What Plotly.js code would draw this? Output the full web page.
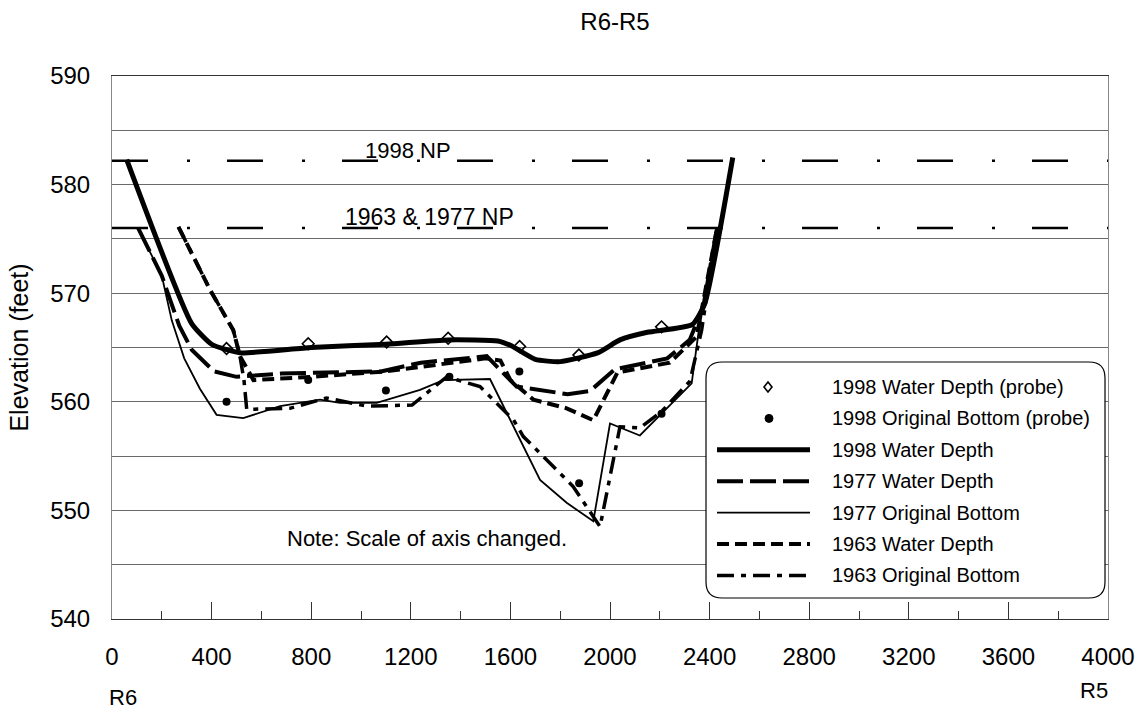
<!DOCTYPE html>
<html>
<head>
<meta charset="utf-8">
<script src="https://cdn.plot.ly/plotly-3.0.1.min.js"></script>
<style>html,body{margin:0;padding:0;background:#fff;}#chart{width:1141px;height:713px;}</style>
</head>
<body>
<div id="chart"></div>
<script>
// ---------------- DATA ----------------
const chartTitle = 'R6-R5';
const yTitle = 'Elevation (feet)';
const xTickVals = [0,400,800,1200,1600,2000,2400,2800,3200,3600,4000];
const yTickVals = [540,550,560,570,580,590];

const np1998X = [0, 4000];
const np1998Y = [582.2, 582.2];
const np6377X = [0, 4000];
const np6377Y = [576.0, 576.0];

const probeWdX = [460, 788, 1103, 1350, 1637, 1875, 2207];
const probeWdY = [564.9, 565.35, 565.5, 565.85, 565.1, 564.3, 566.9];

const probeObX = [460, 788, 1100, 1355, 1636, 1876, 2207];
const probeObY = [560.0, 562.0, 561.05, 562.3, 562.8, 552.5, 558.9];

const wd1998X = [59, 320, 400, 460, 520, 800, 1100, 1350, 1550, 1600, 1700, 1800, 1950, 2040, 2150, 2330, 2380, 2493];
const wd1998Y = [582.3, 567.2, 565.3, 564.8, 564.5, 565.0, 565.3, 565.7, 565.6, 565.2, 563.9, 563.7, 564.5, 565.7, 566.4, 567.1, 569.0, 582.5];

const wd1977X = [105, 200, 270, 320, 410, 500, 680, 1080, 1240, 1505, 1625, 1830, 1920, 2020, 2230, 2320, 2375, 2430];
const wd1977Y = [576.0, 571.6, 567.0, 564.8, 562.8, 562.3, 562.6, 562.8, 563.6, 564.2, 561.4, 560.7, 561.0, 563.0, 564.0, 565.7, 568.8, 576.0];

const ob1977X = [105, 200, 240, 290, 353, 420, 527, 675, 835, 916, 1063, 1237, 1331, 1518, 1719, 1826, 1933, 2000, 2120, 2328, 2355, 2430];
const ob1977Y = [576.0, 571.6, 567.5, 564.0, 561.2, 558.8, 558.5, 559.6, 560.2, 559.9, 559.9, 561.1, 562.0, 562.1, 552.8, 550.7, 549.0, 558.0, 556.9, 561.7, 566.3, 576.0];

const wd1963X = [267, 394, 487, 514, 568, 800, 1100, 1350, 1500, 1560, 1600, 1692, 1826, 1933, 2030, 2240, 2348, 2430];
const wd1963Y = [576.1, 570.3, 566.6, 564.2, 562.0, 562.3, 562.8, 563.5, 564.0, 563.8, 562.0, 560.2, 559.4, 558.3, 562.7, 563.6, 566.0, 576.0];

const ob1963X = [267, 394, 487, 514, 530, 541, 715, 862, 1023, 1205, 1344, 1478, 1612, 1652, 1852, 1960, 2040, 2120, 2207, 2321, 2368, 2430];
const ob1963Y = [576.1, 570.3, 566.6, 564.2, 562.0, 559.3, 559.4, 560.35, 559.6, 559.7, 562.3, 561.4, 558.35, 556.8, 552.2, 548.5, 557.7, 557.6, 559.1, 561.9, 566.6, 576.0];

const legendNames = ['1998 Water Depth (probe)', '1998 Original Bottom (probe)', '1998 Water Depth',
  '1977 Water Depth', '1977 Original Bottom', '1963 Water Depth', '1963 Original Bottom'];

const np1998Label = '1998 NP';
const np6377Label = '1963 & 1977 NP';
const noteText = 'Note: Scale of axis changed.';
const leftLabel = 'R6';
const rightLabel = 'R5';

// ---------------- STYLES ----------------
const FONT = 'Liberation Sans, Arial, sans-serif';
const npDash = '36px,39px,3px,37px';
const styles = [
  {kind:'diamond'},
  {kind:'dot'},
  {kind:'line', width:5, dash:'solid'},
  {kind:'line', width:4, dash:'26px,7px'},
  {kind:'line', width:1.8, dash:'solid'},
  {kind:'line', width:4, dash:'12px,6px'},
  {kind:'line', width:3.5, dash:'17px,7px,5px,7px'}
];

const traces = [
  {x:np1998X, y:np1998Y, mode:'lines', line:{color:'#000', width:2.6, dash:npDash}, showlegend:false, hoverinfo:'skip'},
  {x:np6377X, y:np6377Y, mode:'lines', line:{color:'#000', width:2.6, dash:npDash}, showlegend:false, hoverinfo:'skip'},
  {x:ob1977X, y:ob1977Y, mode:'lines', name:legendNames[4], line:{color:'#000', width:styles[4].width, dash:styles[4].dash}},
  {x:ob1963X, y:ob1963Y, mode:'lines', name:legendNames[6], line:{color:'#000', width:styles[6].width, dash:styles[6].dash}},
  {x:wd1963X, y:wd1963Y, mode:'lines', name:legendNames[5], line:{color:'#000', width:styles[5].width, dash:styles[5].dash}},
  {x:wd1977X, y:wd1977Y, mode:'lines', name:legendNames[3], line:{color:'#000', width:styles[3].width, dash:styles[3].dash}},
  {x:wd1998X, y:wd1998Y, mode:'lines', name:legendNames[2], line:{color:'#000', width:styles[2].width, shape:'spline', smoothing:0.5}},
  {x:probeWdX, y:probeWdY, mode:'markers', name:legendNames[0], marker:{symbol:'diamond-open', size:9, color:'#000', line:{width:1.6, color:'#000'}}},
  {x:probeObX, y:probeObY, mode:'markers', name:legendNames[1], marker:{symbol:'circle', size:8, color:'#000'}}
];

// plot-area geometry in pixels
const L = 112, R = 33, T = 76, B = 94;
const PW = 1141 - L - R, PH = 713 - T - B;
const px = v => (v - L) / PW;
const py = v => (713 - B - v) / PH;

const shapes = [];
const annotations = [];

// rounded legend box
(function(){
  const x0=706, x1=1105, y0=362, y1=598, r=16;
  const P = (a,b) => px(a).toFixed(5)+','+py(b).toFixed(5);
  const d = 'M'+P(x0+r,y0)+' L'+P(x1-r,y0)+' Q'+P(x1,y0)+' '+P(x1,y0+r)+
    ' L'+P(x1,y1-r)+' Q'+P(x1,y1)+' '+P(x1-r,y1)+' L'+P(x0+r,y1)+' Q'+P(x0,y1)+' '+P(x0,y1-r)+
    ' L'+P(x0,y0+r)+' Q'+P(x0,y0)+' '+P(x0+r,y0)+' Z';
  shapes.push({type:'path', xref:'paper', yref:'paper', path:d, fillcolor:'#fff', line:{color:'#000', width:1.2}, layer:'above'});
})();

const rowY0 = 387, rowStep = 31.4;
legendNames.forEach((nm, i) => {
  const yy = rowY0 + i*rowStep;
  const st = styles[i];
  if (st.kind === 'line') {
    shapes.push({type:'line', xref:'paper', yref:'paper', x0:px(717), x1:px(810), y0:py(yy), y1:py(yy),
      line:{color:'#000', width:st.width, dash:st.dash}, layer:'above'});
  } else if (st.kind === 'dot') {
    shapes.push({type:'circle', xref:'paper', yref:'paper', xsizemode:'pixel', ysizemode:'pixel',
      xanchor:px(769), yanchor:py(yy), x0:-4, x1:4, y0:-4, y1:4, fillcolor:'#000', line:{color:'#000', width:1}, layer:'above'});
  } else {
    shapes.push({type:'path', xref:'paper', yref:'paper', xsizemode:'pixel', ysizemode:'pixel',
      xanchor:px(768), yanchor:py(yy), path:'M0,5 L4,0 L0,-5 L-4,0 Z', fillcolor:'#fff', line:{color:'#000', width:1.6}, layer:'above'});
  }
  annotations.push({xref:'paper', yref:'paper', x:px(830), y:py(yy), xanchor:'left', yanchor:'middle',
    text:nm, showarrow:false, font:{family:FONT, size:20, color:'#000'}});
});

annotations.push({xref:'x', yref:'y', x:1189, y:np1998Y[0], xanchor:'center', yanchor:'bottom', yshift:-4,
  text:np1998Label, showarrow:false, font:{family:FONT, size:22, color:'#000'}});
annotations.push({xref:'x', yref:'y', x:1277, y:np6377Y[0], xanchor:'center', yanchor:'bottom', yshift:-4,
  text:np6377Label, showarrow:false, font:{family:FONT, size:23, color:'#000'}});
annotations.push({xref:'paper', yref:'paper', x:px(569), y:py(538), xanchor:'right', yanchor:'middle',
  text:noteText, showarrow:false, font:{family:FONT, size:22, color:'#000'}});
annotations.push({xref:'paper', yref:'paper', x:px(123), y:py(697), xanchor:'center', yanchor:'middle',
  text:leftLabel, showarrow:false, font:{family:FONT, size:22, color:'#000'}});
annotations.push({xref:'paper', yref:'paper', x:px(1094), y:py(690), xanchor:'center', yanchor:'middle',
  text:rightLabel, showarrow:false, font:{family:FONT, size:22, color:'#000'}});

const layout = {
  width:1141, height:713,
  margin:{l:L, r:R, t:T, b:B, pad:0},
  paper_bgcolor:'#fff', plot_bgcolor:'#fff',
  font:{family:FONT, color:'#000', size:22},
  showlegend:false,
  title:{text:chartTitle, x:615/1141, xanchor:'center', xref:'container', y:1-22/713, yanchor:'middle', yref:'container',
    font:{family:FONT, size:24, color:'#000'}},
  xaxis:{range:[0,4000], tickvals:xTickVals, ticktext:xTickVals.map(String),
    ticks:'inside', ticklen:17, tickwidth:1, tickcolor:'#333',
    minor:{dtick:200, tick0:0, ticks:'inside', ticklen:8, tickwidth:1, tickcolor:'#333', showgrid:false},
    showgrid:false, zeroline:false, showline:true, linecolor:'#333', linewidth:1.2, mirror:true,
    tickfont:{family:FONT, size:24, color:'#000'}, ticklabelstandoff:16},
  yaxis:{range:[540,590], tickvals:yTickVals, ticktext:yTickVals.map(String),
    ticks:'', showgrid:true, gridcolor:'#6a6a6a', gridwidth:1,
    minor:{dtick:5, tick0:540, showgrid:true, gridcolor:'#6a6a6a', gridwidth:1, ticks:''},
    zeroline:false, showline:true, linecolor:'#888', linewidth:1, mirror:true,
    tickfont:{family:FONT, size:24, color:'#000'}, ticklabelstandoff:16,
    title:{text:yTitle, font:{family:FONT, size:25, color:'#000'}, standoff:14}},
  shapes:shapes,
  annotations:annotations
};

Plotly.newPlot('chart', traces, layout, {staticPlot:true, displayModeBar:false});
</script>
</body>
</html>
